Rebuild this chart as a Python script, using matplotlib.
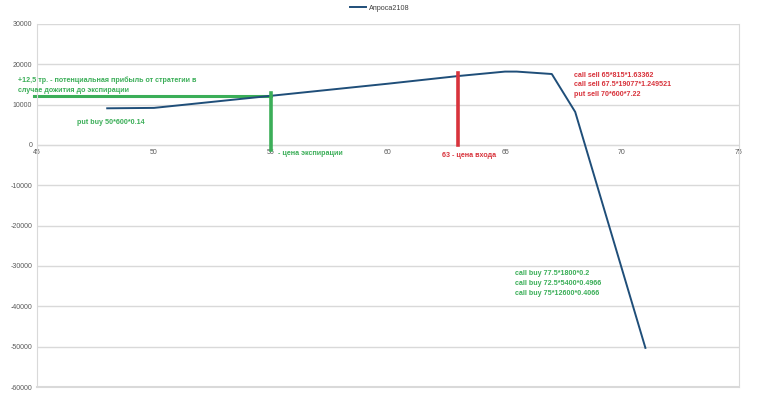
import matplotlib
import matplotlib.pyplot as plt

matplotlib.use('Agg')

# payoff of the strategy at expiration
price = [48, 50, 55, 60, 63, 65, 65.5, 67, 68, 71]
profit = [9100, 9200, 12200, 15200, 17100, 18200, 18200, 17600, 8200, -50300]
series_name = "Апроса2108"

y_ticks = list(range(-60000, 30001, 10000))
x_ticks = [45, 50, 55, 60, 65, 70, 75]

expiry_price = 55
expiry_profit = 12150
entry_price = 63
entry_top = 17800

GREEN = '#3BAE58'
RED = '#D8333C'
BLUE = '#1F4E79'
GRID = '#D9D9D9'

plt.rcParams['font.family'] = ['Liberation Sans Narrow', 'Liberation Sans', 'DejaVu Sans']
plt.rcParams['axes.unicode_minus'] = False

fig = plt.figure(figsize=(7.58, 3.99), dpi=100)
ax = fig.add_axes([37 / 758, 12 / 399, 702 / 758, 363 / 399])

ax.plot(price, profit, color=BLUE, lw=1.4, label=series_name, zorder=3)

# annotations drawn on the chart
ax.plot([44.87, expiry_price], [expiry_profit, expiry_profit], color=GREEN, lw=2.2,
        clip_on=False, zorder=2)
ax.plot([expiry_price, expiry_price], [12900, -1200], color=GREEN, lw=2.6, zorder=4)
ax.plot([entry_price, entry_price], [entry_top, 0], color=RED, lw=2.6, zorder=4)

small = dict(fontsize=5.1, fontweight='bold', clip_on=False)
ax.text(44.2, 14760, "+12,5 тр. - потенциальная прибыль от стратегии в\nслучае дожития до экспирации",
        color=GREEN, va='center', ha='left', linespacing=1.55, **small)
ax.text(46.71, 5460, "put buy 50*600*0.14", color=GREEN, va='center', **small)
ax.text(55.3, -2230, "- цена экспирации", color=GREEN, va='center', **small)
ax.text(62.31, -2480, "63 - цена входа", color=RED, va='center', **small)
ax.text(67.95, 14890, "call sell 65*815*1.63362\ncall sell 67.5*19077*1.249521\nput sell 70*600*7.22",
        color=RED, va='center', linespacing=1.55, **small)
ax.text(65.43, -34370, "call buy 77.5*1800*0.2\ncall buy 72.5*5400*0.4966\ncall buy 75*12600*0.4066",
        color=GREEN, va='center', linespacing=1.55, **small)

ax.set_xlim(45, 75)
ax.set_ylim(-60000, 30000)
ax.set_yticks(y_ticks)
ax.set_xticks(x_ticks)
ax.tick_params(length=0, labelsize=5.0, colors='#595959')
ax.tick_params(axis='x', pad=3)
ax.yaxis.grid(True, color=GRID, lw=1)
ax.axhline(-60000, color=GRID, lw=1.5, clip_on=False, zorder=1)
ax.set_axisbelow(True)

ax.spines['top'].set_visible(False)
ax.spines['left'].set_color(GRID)
ax.spines['right'].set_color(GRID)
ax.spines['bottom'].set_position(('data', 0))
ax.spines['bottom'].set_color(GRID)

leg = fig.legend(loc='center', bbox_to_anchor=(380 / 758, 1 - 8 / 399), frameon=False,
                 fontsize=5.2, handlelength=2.2, handletextpad=0.4)
for t in leg.get_texts():
    t.set_color('#404040')

fig.savefig('out.png', dpi=100)
